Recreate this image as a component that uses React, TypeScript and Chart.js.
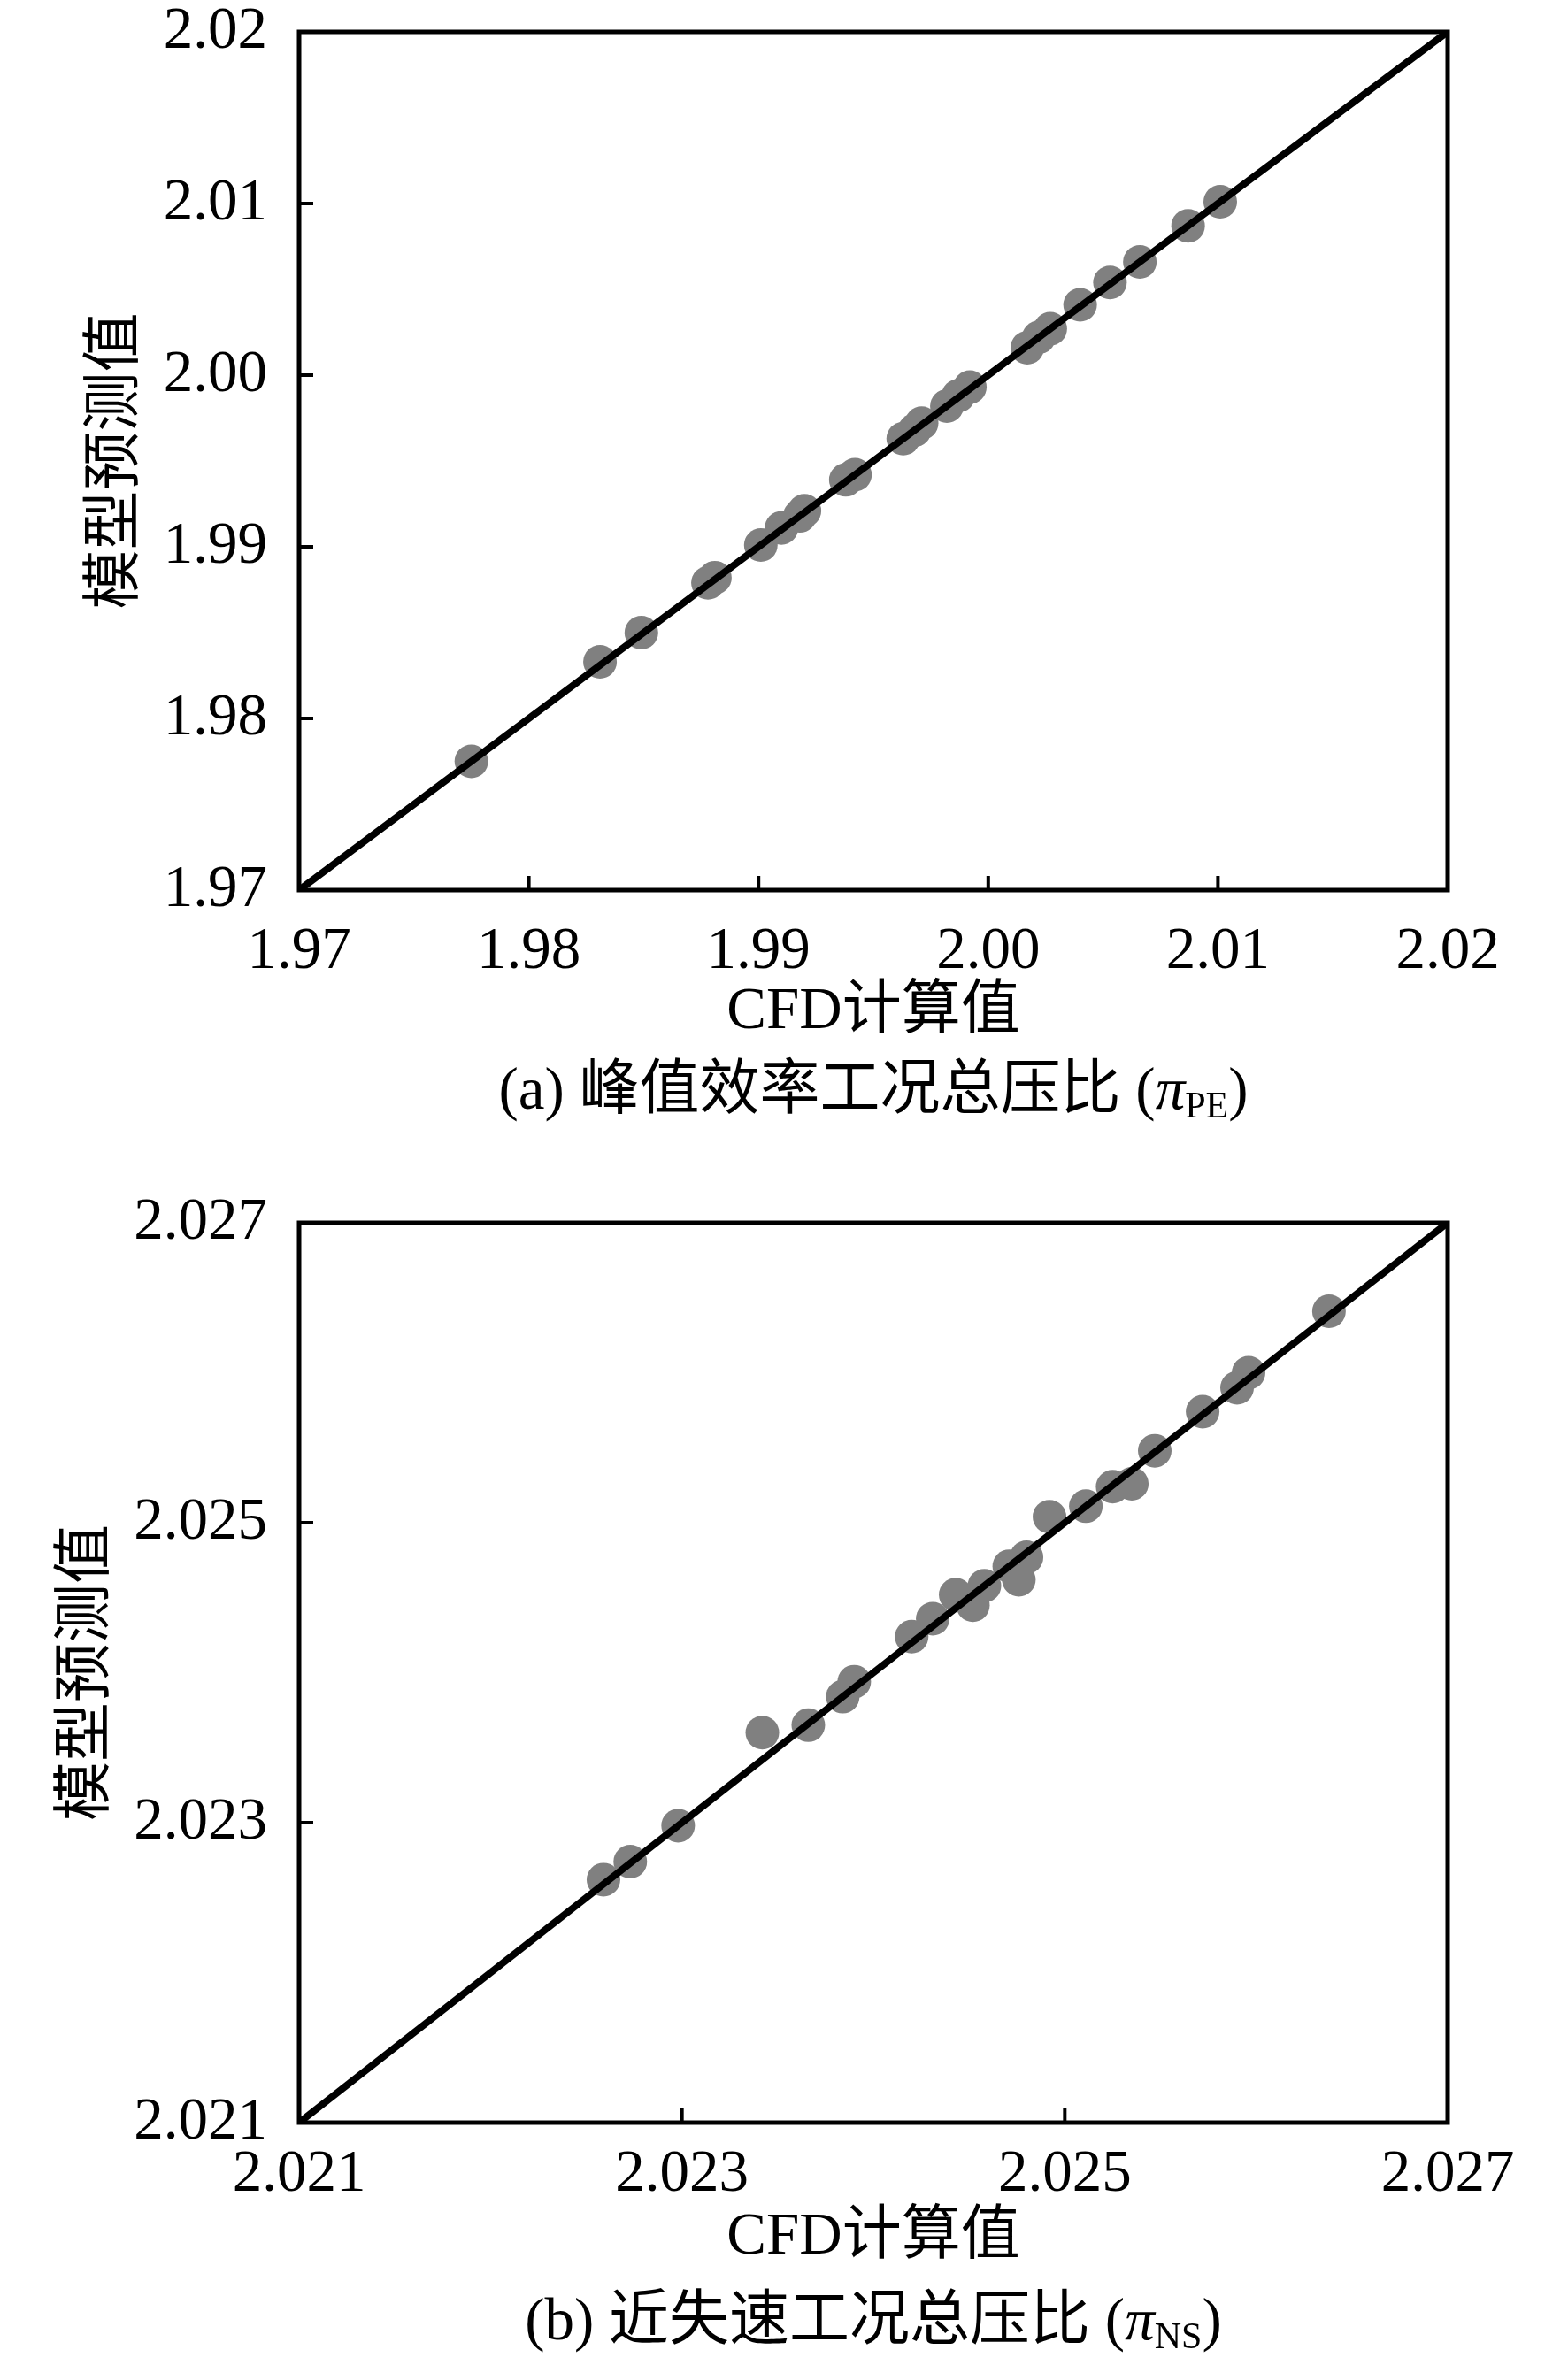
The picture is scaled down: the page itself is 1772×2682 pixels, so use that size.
import React, { useEffect, useRef } from "react";
import { Chart, registerables } from "chart.js";

Chart.register(...registerables);

// ---- (a) peak-efficiency total pressure ratio ----
const peCfd = [
  1.9775, 1.9831, 1.9849, 1.9878, 1.9881, 1.9901, 1.991, 1.9918, 1.992, 1.9938,
  1.9942, 1.9963, 1.9968, 1.9971, 1.9982, 1.9987, 1.9992, 2.0017, 2.0022, 2.0027,
  2.004, 2.0053, 2.0066, 2.0087, 2.0101,
];
const pePred = [
  1.9775, 1.9833, 1.985, 1.9879, 1.9882, 1.9901, 1.9911, 1.9918, 1.9921, 1.9939,
  1.9942, 1.9963, 1.9968, 1.9972, 1.9982, 1.9988, 1.9993, 2.0016, 2.0022, 2.0027,
  2.0041, 2.0054, 2.0066, 2.0087, 2.0101,
];
const peTicks = [1.97, 1.98, 1.99, 2.0, 2.01, 2.02];

// ---- (b) near-stall total pressure ratio ----
const nsCfd = [
  2.02259, 2.02273, 2.02298, 2.02342, 2.02366, 2.02384, 2.0239, 2.0242, 2.02431,
  2.02443, 2.02452, 2.02458, 2.02471, 2.02476, 2.0248, 2.02492, 2.02511, 2.02525,
  2.02535, 2.02547, 2.02572, 2.0259, 2.02596, 2.02638,
];
const nsPred = [
  2.02262, 2.02274, 2.02298, 2.0236, 2.02365, 2.02384, 2.02394, 2.02424, 2.02436,
  2.02452, 2.02445, 2.02458, 2.02471, 2.02462, 2.02477, 2.02504, 2.02511, 2.02524,
  2.02526, 2.02548, 2.02574, 2.0259, 2.026, 2.02641,
];
const nsTicks = [2.021, 2.023, 2.025, 2.027];

const xTitle = "CFD计算值";
const yTitle = "模型预测值";
const capA = ["(a) ", "峰值效率工况总压比", " (", "π", "PE", ")"];
const capB = ["(b) ", "近失速工况总压比", " (", "π", "NS", ")"];

const SERIF = '"Liberation Serif", "Times New Roman", "Noto Sans CJK SC", serif';
const CJKF = '"Noto Sans CJK SC", "Liberation Serif", sans-serif';
const W = 1772;
const LEFT = 338;
const RIGHT = 1636;

type Geo = {
  h: number;
  top: number;
  bottom: number;
  xLabelPad: number;
  xTitlePad: number;
  yTitlePad: number;
  capY: number;
};

function makeChart(
  canvas: HTMLCanvasElement,
  cfd: number[],
  pred: number[],
  ticks: number[],
  decimals: number,
  geo: Geo,
  cap: string[]
) {
  const min = ticks[0];
  const max = ticks[ticks.length - 1];
  const pts = cfd.map((v, i) => ({ x: v, y: pred[i] }));

  const framePlugin = {
    id: "frameAndCaption",
    afterDraw(chart: any) {
      const ctx = chart.ctx;
      const a = chart.chartArea;
      const xs = chart.scales.x;
      const ys = chart.scales.y;
      ctx.save();
      // inward tick marks
      ctx.strokeStyle = "#000";
      ctx.lineWidth = 4;
      ctx.beginPath();
      ticks.slice(1, -1).forEach((t) => {
        const px = xs.getPixelForValue(t);
        ctx.moveTo(px, a.bottom);
        ctx.lineTo(px, a.bottom - 16);
        const py = ys.getPixelForValue(t);
        ctx.moveTo(a.left, py);
        ctx.lineTo(a.left + 16, py);
      });
      ctx.stroke();
      // frame
      ctx.lineWidth = 5;
      ctx.strokeRect(a.left, a.top, a.right - a.left, a.bottom - a.top);

      // caption
      const segs = [
        { t: cap[0], f: `67px ${SERIF}`, dy: 0 },
        { t: cap[1], f: `68px ${CJKF}`, dy: 0 },
        { t: cap[2], f: `67px ${SERIF}`, dy: 0 },
        { t: cap[3], f: `italic 67px ${SERIF}`, dy: 0 },
        { t: cap[4], f: `42px ${SERIF}`, dy: 10 },
        { t: cap[5], f: `67px ${SERIF}`, dy: 0 },
      ];
      let total = 0;
      const widths = segs.map((s) => {
        ctx.font = s.f;
        const w = ctx.measureText(s.t).width;
        total += w;
        return w;
      });
      let x = (a.left + a.right) / 2 - total / 2;
      const base = geo.capY + 24;
      ctx.fillStyle = "#000";
      ctx.textBaseline = "alphabetic";
      ctx.textAlign = "left";
      segs.forEach((s, i) => {
        ctx.font = s.f;
        ctx.fillText(s.t, x, base + s.dy);
        x += widths[i];
      });
      ctx.restore();
    },
  };

  return new Chart(canvas, {
    type: "scatter",
    data: {
      datasets: [
        {
          type: "line",
          data: [
            { x: min, y: min },
            { x: max, y: max },
          ],
          borderColor: "#000",
          borderWidth: 8,
          pointRadius: 0,
          fill: false,
          order: 0,
        } as any,
        {
          type: "scatter",
          data: pts,
          backgroundColor: "#808080",
          borderWidth: 0,
          pointRadius: 19,
          pointHoverRadius: 19,
          order: 1,
        },
      ],
    },
    options: {
      responsive: false,
      animation: false,
      devicePixelRatio: 1,
      events: [],
      layout: { padding: { top: geo.top, right: W - RIGHT, bottom: 0, left: 0 } },
      plugins: { legend: { display: false }, tooltip: { enabled: false } },
      scales: {
        x: {
          type: "linear",
          min,
          max,
          grid: { display: false },
          border: { display: false },
          afterBuildTicks: (s: any) => {
            s.ticks = ticks.map((v) => ({ value: v }));
          },
          afterFit: (s: any) => {
            s.height = geo.h - geo.bottom;
            s.paddingLeft = 0;
            s.paddingRight = 0;
          },
          ticks: {
            autoSkip: false,
            maxRotation: 0,
            padding: geo.xLabelPad,
            color: "#000",
            font: { family: SERIF, size: 67 },
            callback: (v: any) => Number(v).toFixed(decimals),
          },
          title: {
            display: true,
            text: xTitle,
            color: "#000",
            font: { family: SERIF, size: 67 },
            padding: { top: 0, bottom: geo.xTitlePad },
          },
        },
        y: {
          type: "linear",
          min,
          max,
          grid: { display: false },
          border: { display: false },
          afterBuildTicks: (s: any) => {
            s.ticks = ticks.map((v) => ({ value: v }));
          },
          afterFit: (s: any) => {
            s.width = LEFT;
            s.paddingTop = 0;
            s.paddingBottom = 0;
          },
          ticks: {
            autoSkip: false,
            padding: 28,
            color: "#000",
            font: { family: SERIF, size: 67 },
            callback: (v: any) => Number(v).toFixed(decimals),
          },
          title: {
            display: true,
            text: yTitle,
            color: "#000",
            font: { family: SERIF, size: 67 },
            padding: { top: geo.yTitlePad, bottom: 0 },
          },
        },
      },
    },
    plugins: [framePlugin],
  } as any);
}

const geoA: Geo = { h: 1300, top: 36, bottom: 1006, xLabelPad: 22, xTitlePad: 115, yTitlePad: 92, capY: 1229 };
const geoB: Geo = { h: 1382, top: 82, bottom: 1099, xLabelPad: 11, xTitlePad: 112, yTitlePad: 59, capY: 1320 };

export default function App() {
  const refA = useRef<HTMLCanvasElement>(null);
  const refB = useRef<HTMLCanvasElement>(null);

  useEffect(() => {
    const a = makeChart(refA.current!, peCfd, pePred, peTicks, 2, geoA, capA);
    const b = makeChart(refB.current!, nsCfd, nsPred, nsTicks, 3, geoB, capB);
    return () => {
      a.destroy();
      b.destroy();
    };
  }, []);

  return (
    <div style={{ position: "absolute", left: 0, top: 0, width: W, height: 2682, background: "#fff" }}>
      <canvas
        ref={refA}
        width={W}
        height={geoA.h}
        style={{ position: "absolute", left: 0, top: 0, width: W, height: geoA.h, display: "block" }}
      />
      <canvas
        ref={refB}
        width={W}
        height={geoB.h}
        style={{ position: "absolute", left: 0, top: geoA.h, width: W, height: geoB.h, display: "block" }}
      />
    </div>
  );
}
